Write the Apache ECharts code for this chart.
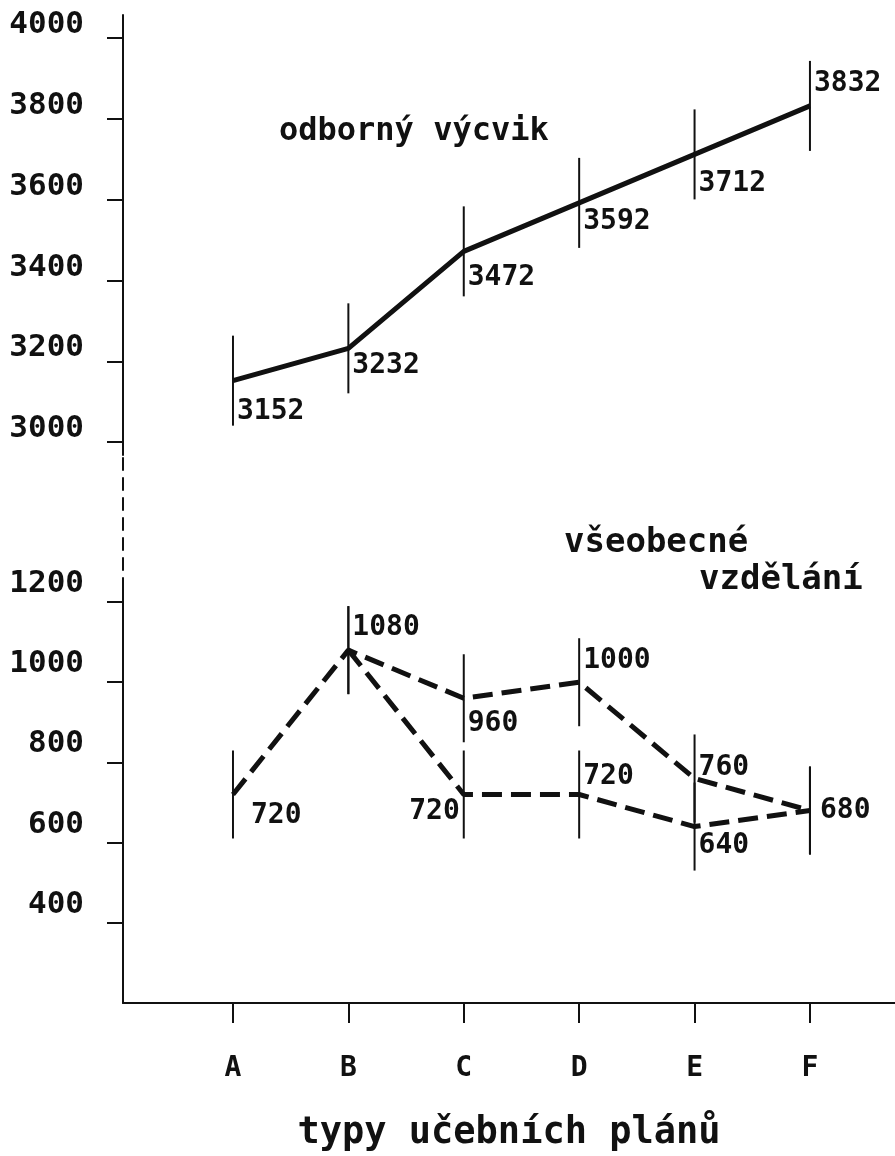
<!DOCTYPE html>
<html>
<head>
<meta charset="utf-8">
<title>typy učebních plánů</title>
<script src="https://cdn.jsdelivr.net/npm/echarts@6/dist/echarts.min.js"></script>
<style>
  html, body { margin: 0; padding: 0; background: #fff; }
  #main { width: 895px; height: 1156px; }
</style>
</head>
<body>
<div id="main"></div>
<script>
// kategorie (typy učebních plánů)
const categories = ["A", "B", "C", "D", "E", "F"];
// odborný výcvik
const odbornyVycvik = [3152, 3232, 3472, 3592, 3712, 3832];
// všeobecné vzdělání - dvě varianty (druhá se odděluje od B)
const vseobecne1 = [720, 1080, 960, 1000, 760, 680];
const vseobecne2 = [null, 1080, 720, 720, 640, 680];
// popisky os
const upperTicks = [3000, 3200, 3400, 3600, 3800, 4000];
const lowerTicks = [400, 600, 800, 1000, 1200];
const catTicks = [0, 1, 2, 3, 4, 5];

// posuny popisků hodnot (jen styl)
const upperLabelDy = [31, 17, 26, 19, 29, -22];
const lower1LabelDy = [21, -22, 25, -22, -11, 0];
const lower1LabelGap = [17, 3, 3, 3, 3, 9];
const lower2LabelDy = [0, 0, 17, -18, 19, 0];
const lower2LabelShow = [false, false, true, true, true, false];
const lower2LabelPos = ["right", "right", "left", "right", "right", "right"];

const FONT = "DejaVu Sans Mono";
const INK = "#111";

function markerData(values, opts) {
  const out = [];
  values.forEach((v, i) => {
    if (v === null) return;
    out.push({
      value: [i, v],
      label: {
        show: opts.show ? opts.show[i] : true,
        position: opts.pos ? opts.pos[i] : "right",
        distance: opts.gap ? opts.gap[i] : 3,
        offset: [0, opts.dy[i]]
      }
    });
  });
  return out;
}

const valueLabel = {
  color: INK,
  fontFamily: FONT,
  fontWeight: "bold",
  fontSize: 28
};

const chart = echarts.init(document.getElementById("main"), null, { renderer: "canvas" });

const hiddenX = (idx) => ({
  type: "value",
  gridIndex: idx,
  min: -0.953,
  max: 5.737,
  show: false
});

// popisky osy y - mírně nad značkou
const yLabel = (ticks, lh) => ({
  customValues: ticks,
  margin: 39,
  verticalAlign: "bottom",
  lineHeight: lh,
  color: INK,
  fontFamily: FONT,
  fontWeight: "bold",
  fontSize: 31,
  formatter: (v) => String(v)
});

const option = {
  animation: false,
  backgroundColor: "#fff",
  grid: [
    { left: 123, right: 0, top: 15, height: 440, outerBoundsMode: "none" },
    { left: 123, right: 0, top: 455, height: 135, outerBoundsMode: "none" },
    { left: 123, right: 0, top: 590, height: 413, outerBoundsMode: "none" }
  ],
  xAxis: [
    hiddenX(0),
    hiddenX(1),
    {
      type: "value",
      gridIndex: 2,
      min: -0.953,
      max: 5.737,
      splitLine: { show: false },
      axisLine: { onZero: false, lineStyle: { color: INK, width: 2 } },
      axisTick: { show: true, length: 20, customValues: catTicks, lineStyle: { color: INK, width: 2 } },
      axisLabel: {
        customValues: catTicks,
        margin: 52,
        color: INK,
        fontFamily: FONT,
        fontWeight: "bold",
        fontSize: 28,
        formatter: (v) => categories[Math.round(v)]
      },
      name: "typy učebních plánů",
      nameLocation: "middle",
      nameGap: 112,
      nameTextStyle: { color: INK, fontFamily: FONT, fontWeight: "bold", fontSize: 37 }
    }
  ],
  yAxis: [
    {
      type: "value",
      gridIndex: 0,
      min: 2968,
      max: 4057,
      splitLine: { show: false },
      axisLine: { show: true, onZero: false, lineStyle: { color: INK, width: 2 } },
      axisTick: { show: true, length: 16, customValues: upperTicks, lineStyle: { color: INK, width: 2 } },
      axisLabel: yLabel(upperTicks, 26)
    },
    {
      type: "value",
      gridIndex: 1,
      min: 0,
      max: 1,
      splitLine: { show: false },
      axisLine: { show: true, onZero: false, lineStyle: { color: INK, width: 2, type: [12, 8] } },
      axisTick: { show: false },
      axisLabel: { show: false }
    },
    {
      type: "value",
      gridIndex: 2,
      min: 200,
      max: 1230,
      splitLine: { show: false },
      axisLine: { show: true, onZero: false, lineStyle: { color: INK, width: 2 } },
      axisTick: { show: true, length: 16, customValues: lowerTicks, lineStyle: { color: INK, width: 2 } },
      axisLabel: yLabel(lowerTicks, 36)
    }
  ],
  graphic: [
    { type: "text", left: 279, top: 116, style: { text: "odborný výcvik", fill: INK, font: "bold 32px '" + FONT + "'" } },
    { type: "text", left: 564, top: 526, style: { text: "všeobecné", fill: INK, font: "bold 34px '" + FONT + "'" } },
    { type: "text", left: 699, top: 563, style: { text: "vzdělání", fill: INK, font: "bold 34px '" + FONT + "'" } }
  ],
  series: [
    {
      name: "odborný výcvik",
      type: "line",
      xAxisIndex: 0,
      yAxisIndex: 0,
      symbol: "rect",
      symbolSize: [2, 90],
      showAllSymbol: true,
      itemStyle: { color: INK },
      lineStyle: { color: INK, width: 5 },
      label: Object.assign({ show: true }, valueLabel),
      data: markerData(odbornyVycvik, { dy: upperLabelDy })
    },
    {
      name: "všeobecné vzdělání",
      type: "line",
      xAxisIndex: 2,
      yAxisIndex: 2,
      symbol: "rect",
      symbolSize: [2, 88],
      showAllSymbol: true,
      itemStyle: { color: INK },
      lineStyle: { color: INK, width: 5, type: [20, 9] },
      label: Object.assign({ show: true }, valueLabel),
      data: markerData(vseobecne1, { dy: lower1LabelDy, gap: lower1LabelGap })
    },
    {
      name: "všeobecné vzdělání 2",
      type: "line",
      xAxisIndex: 2,
      yAxisIndex: 2,
      symbol: "rect",
      symbolSize: [2, 88],
      showAllSymbol: true,
      itemStyle: { color: INK },
      lineStyle: { color: INK, width: 5, type: [20, 9] },
      label: Object.assign({ show: true }, valueLabel),
      data: markerData(vseobecne2, { dy: lower2LabelDy, show: lower2LabelShow, pos: lower2LabelPos })
    }
  ]
};

chart.setOption(option);
</script>
</body>
</html>
